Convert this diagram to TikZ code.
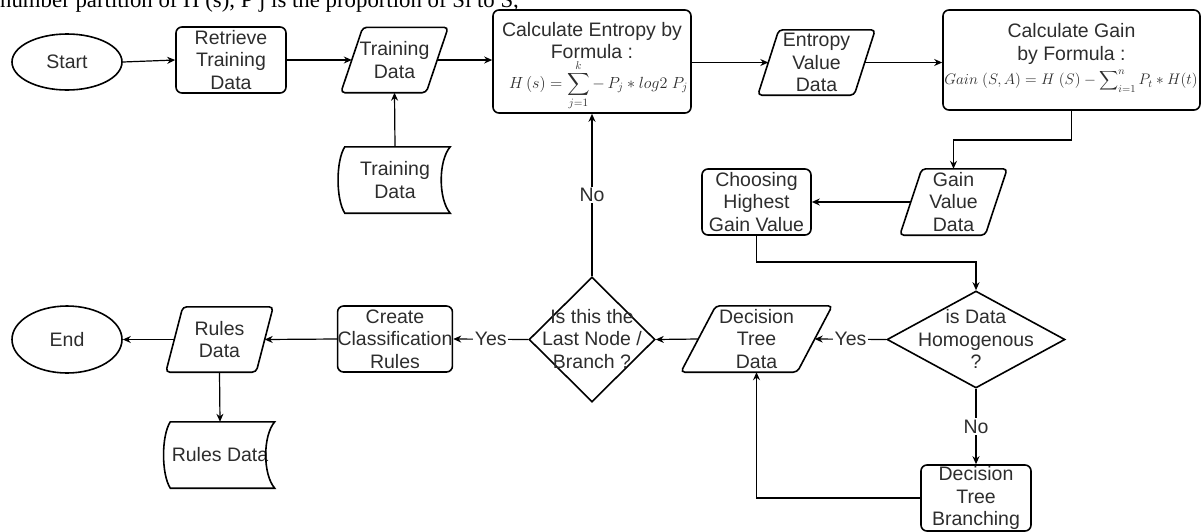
\documentclass[tikz,border=0pt]{standalone}
\usepackage{graphicx}
\usepackage{fontspec}
\setmainfont{Liberation Sans}
\newfontfamily\headserif{Liberation Serif}
\usetikzlibrary{shapes.geometric,arrows.meta,calc}
\definecolor{txtc}{RGB}{45,45,45}
\newcommand{\flowfont}{\fontsize{19.5}{22.5}\selectfont}
\newcommand{\bigsumop}[1]{\mathop{\vcenter{\hbox{\scalebox{#1}{$\displaystyle\sum$}}}}}
\newcommand{\paradraw}[2]{\draw[shp, rounded corners=4pt] ([xshift=#2]#1.north west) -- (#1.north east) -- ([xshift=-#2]#1.south east) -- (#1.south west) -- cycle;}
\newcommand{\storedraw}[1]{\draw[shp] ([xshift=5]#1.north west) -- (#1.north east)
  .. controls ([xshift=-12,yshift=-14]#1.north east) and ([xshift=-12,yshift=14]#1.south east) .. (#1.south east)
  -- ([xshift=5]#1.south west)
  .. controls ([xshift=-4,yshift=14]#1.south west) and ([xshift=-4,yshift=-14]#1.north west) .. ([xshift=5]#1.north west) -- cycle;}
\tikzset{
  shp/.style={draw=black, line width=1.6pt},
  txt/.style={text=txtc, font=\flowfont, align=center, inner sep=0pt},
  procbox/.style={shp, txt, rounded corners=6pt, minimum width=110pt, minimum height=66pt},
  iobox/.style={txt, minimum height=65pt},
  termbox/.style={shp, txt, ellipse, minimum width=110pt, minimum height=56pt},
  decbox/.style={shp, diamond, inner sep=0pt},
  storebox/.style={txt, minimum width=110pt, minimum height=66pt},
  conn/.style={draw=black, line width=1.2pt, -{Stealth[length=8pt,width=7pt]}},
  lbl/.style={txt, fill=white, inner sep=1.5pt},
  mathf/.style={inner sep=0pt, text=txtc, font=\fontsize{14.4}{17}\selectfont},
}
\begin{document}
\begin{tikzpicture}[x=1pt,y=-1pt]
\useasboundingbox (0,0) rectangle (1203,531);
% clipped heading line
\node[anchor=base west, inner sep=0pt, text=black, font=\headserif\fontsize{22.8}{26}\selectfont] (head) at (0,7.5) {number partition of H (s), P j is the proportion of Si to S,};

% nodes
\node[termbox] (start) at (67,62) {Start};
\node[procbox] (ret) at (231,60) {Retrieve\\Training\\Data};
\node[iobox, minimum width=107pt] (td1) at (394.5,60) {Training\\Data};
\paradraw{td1}{22}
\node[storebox] (td2) at (395,180) {Training\\Data};
\storedraw{td2}

\node[procbox, minimum width=198pt, minimum height=103pt] (ent) at (592,61.5) {};
\node[txt] (entT) at (592,40.5) {Calculate Entropy by\\Formula :};
\node[mathf] (entF) at (598.5,85) {\scalebox{1.12}{$\displaystyle H\,(s) = \bigsumop{1.4}\limits_{j=1}^{k} {-}\,P_j * log2\;P_j$}};

\node[iobox, minimum width=117pt] (evd) at (816.5,62.5) {Entropy\\Value\\Data};
\paradraw{evd}{21}

\node[procbox, minimum width=257pt, minimum height=100pt] (gain) at (1071.5,60) {};
\node[txt] (gainT) at (1071.5,44) {Calculate Gain\\by Formula :};
\node[mathf] (gainF) at (1071,81) {\scalebox{1.06}{$\displaystyle Gain\;(S,A) = H\;(S) - \bigsumop{1.25}\nolimits_{i=1}^{n} P_t * H(t)$}};

\node[iobox, minimum width=107pt, minimum height=66pt] (gvd) at (953.5,202) {Gain\\Value\\Data};
\paradraw{gvd}{22}
\node[procbox, minimum width=109pt] (cho) at (756.5,202) {Choosing\\Highest\\Gain Value};

\node[decbox, minimum width=178pt, minimum height=97pt] (hom) at (976,339.5) {};
\node[txt] (homT) at (976,339) {is Data\\Homogenous\\?};
\node[procbox] (brn) at (976,498) {Decision\\Tree\\Branching};

\node[iobox, minimum width=151pt, minimum height=66pt] (dtd) at (756.5,339) {Decision\\Tree\\Data};
\paradraw{dtd}{35}

\node[decbox, minimum width=126pt, minimum height=125pt] (last) at (592,339.5) {};
\node[txt] (lastT) at (592,339) {Is this the\\Last Node /\\Branch ?};

\node[procbox] (cre) at (395,339) {Create\\Classification\\Rules};
\node[iobox, minimum width=107pt] (rd) at (219.5,339.5) {Rules\\Data};
\paradraw{rd}{17}
\node[termbox, minimum height=67pt] (end) at (67,339.5) {End};
\node[storebox, minimum width=109pt] (rds) at (220,455) {Rules Data};
\storedraw{rds}

% connectors
\draw[conn] (start.east) -- (ret.west);
\draw[conn] (ret.east) -- ([xshift=11]td1.west);
\draw[conn] (td2.north) -- (td1.south);
\draw[conn] ([xshift=-11]td1.east) -- (ent.west |- td1.east);
\draw[conn] (ent.east |- evd.west) -- ([xshift=10.5]evd.west);
\draw[conn] ([xshift=-10.5]evd.east) -- (gain.west |- evd.east);
\draw[conn] (gain.south) -- (gain.south |- 0,140) -| (gvd.north);
\draw[conn] ([xshift=11]gvd.west) -- (cho.east);
\draw[conn] (cho.south) -- (cho.south |- 0,262) -| (hom.north);
\draw[conn] (hom.west) -- node[lbl] {Yes} ([xshift=-17.5]dtd.east);
\draw[conn] (hom.south) -- node[lbl] {No} (brn.north);
\draw[conn] (brn.west) -| (dtd.south);
\draw[conn] ([xshift=17.5]dtd.west) -- (last.east);
\draw[conn] (last.north) -- node[lbl] {No} (ent.south);
\draw[conn] (last.west) -- node[lbl] {Yes} (cre.east);
\draw[conn] (cre.west) -- ([xshift=-8.5]rd.east);
\draw[conn] ([xshift=8.5]rd.west) -- (end.east);
\draw[conn] (rd.south) -- (rds.north);
\end{tikzpicture}
\end{document}
